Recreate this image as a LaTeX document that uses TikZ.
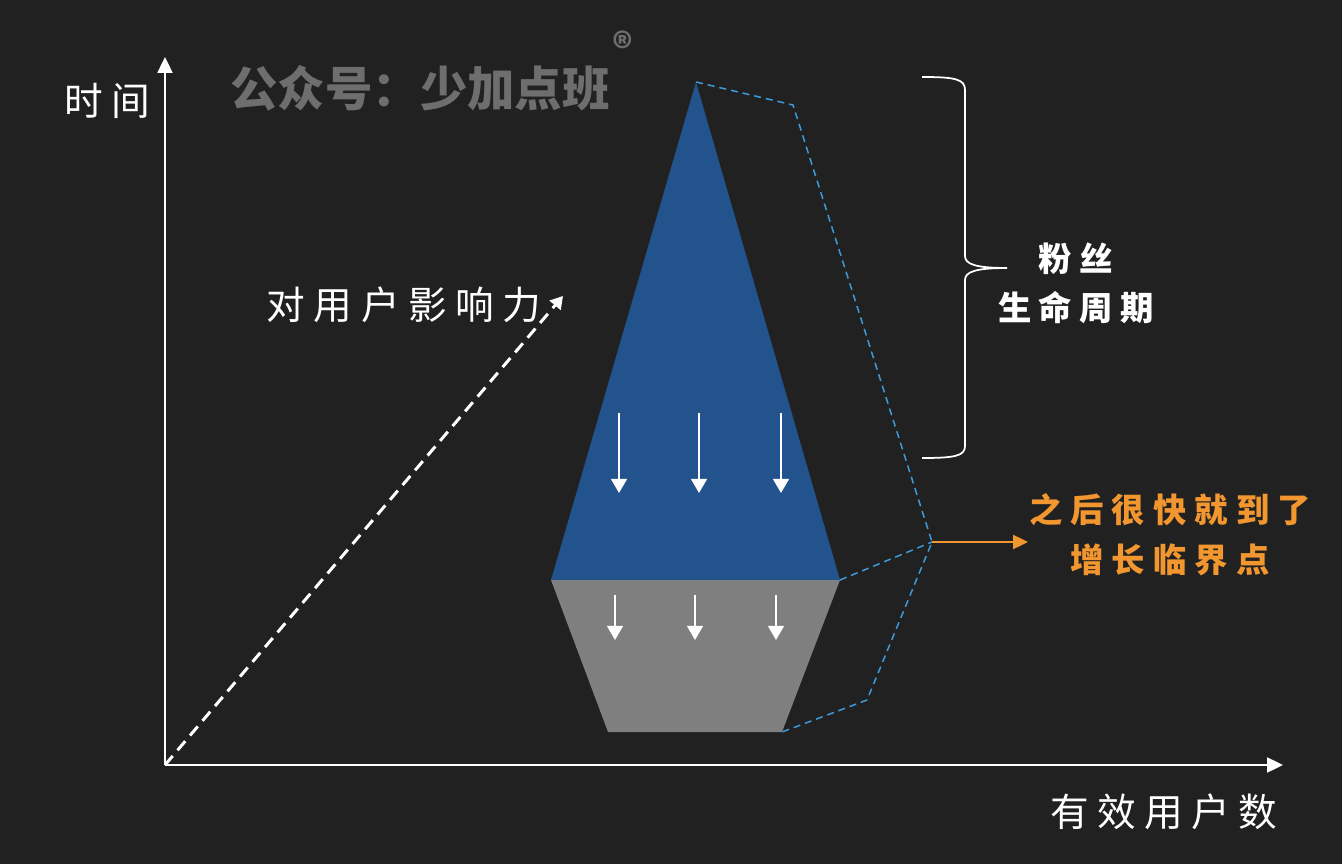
\documentclass[tikz,border=0pt]{standalone}
\usepackage{fontspec}
\usetikzlibrary{arrows.meta}
\newfontfamily\cjk[LetterSpace=22]{Noto Sans CJK SC}
\newfontfamily\cjknote[LetterSpace=24]{Noto Sans CJK SC}
\newfontfamily\cjkmark{Noto Sans CJK SC}
\definecolor{bgdark}{HTML}{212121}
\definecolor{coneblue}{HTML}{22538D}
\definecolor{conegray}{HTML}{7F7F7F}
\definecolor{dashblue}{HTML}{3E9BDB}
\definecolor{tiporange}{HTML}{F2962F}
\definecolor{markgray}{HTML}{6E6E6E}

\begin{document}
\begin{tikzpicture}[x=0.02cm, y=-0.02cm,
		axis/.style={white, line width=1.1pt, -{Triangle[length=9pt,width=8.5pt]}},
		flow/.style={white, line width=1.1pt, -{Triangle[length=8pt,width=9pt]}},
		outline/.style={dashblue, line width=0.85pt, dash pattern=on 4pt off 2.8pt},
		label/.style={white, font=\cjk\fontsize{22}{26}\selectfont}]
	\useasboundingbox[fill=bgdark] (0,0) rectangle (1342,864);
	% axes
	\coordinate (o) at (165,765);
	\coordinate (ytop) at (165,57);
	\coordinate (xend) at (1283,765);
	\draw[axis] (o) -- (ytop);
	\draw[axis] (o) -- (xend);
	\node[label] (tlabel) at (107,101) {时间};
	\node[label] (ulabel) at (1164,812) {有效用户数};
	% watermark
	\node[markgray, inner sep=1pt, font=\cjkmark\bfseries\fontsize{27}{30}\selectfont] (mark) at (420,88) {公众号：少加点班};
	\node[markgray, inner sep=0pt, anchor=south west, font=\cjkmark\bfseries\fontsize{22}{24}\selectfont] (reg) at (mark.north east) {®};
	% influence arrow
	\coordinate (inftip) at (563,296);
	\draw[white, line width=1.7pt, dash pattern=on 6.8pt off 4.2pt, -{Triangle[length=7pt,width=8pt]}] (o) -- (inftip);
	\node[label] (inflabel) at (404,305) {对用户影响力};
	% cone
	\coordinate (apex) at (696,82);
	\coordinate (bl) at (551,580);
	\coordinate (br) at (840,580);
	\coordinate (gl) at (608,732);
	\coordinate (gr) at (782,732);
	\fill[coneblue] (apex) -- (br) -- (bl) -- cycle;
	\fill[conegray] (bl) -- (br) -- (gr) -- (gl) -- cycle;
	\foreach \x in {619,699,781}{
		\draw[flow] (\x,413) -- (\x,493);
	}
	\foreach \x in {615,695,776}{
		\draw[flow] (\x,595) -- (\x,640);
	}
	% dashed outline
	\coordinate (d1) at (793,105);
	\coordinate (tip) at (932,542);
	\coordinate (d2) at (867,700);
	\draw[outline] (apex) -- (d1) -- (tip) -- (d2) -- (gr);
	\draw[outline] (br) -- (tip);
	\coordinate (tipend) at (1028,542);
	\draw[tiporange, line width=1.1pt, -{Triangle[length=8.5pt,width=8pt]}] (tip) -- (tipend);
	\node[tiporange, align=center, font=\cjknote\bfseries\fontsize{19}{28.5}\selectfont] (critical) at (1170,535) {之后很快就到了\\增长临界点};
	% brace
	\draw[white, line width=1pt] (922,77) .. controls (955,77) and (965,79) .. (965,90) -- (965,256)
		.. controls (965,264) and (975,268) .. (1007,268)
		.. controls (975,268) and (965,272) .. (965,280) -- (965,446)
		.. controls (965,456) and (955,458) .. (922,458);
	\node[white, align=center, font=\cjk\bfseries\fontsize{19}{28}\selectfont] (fans) at (1076,283) {粉丝\\生命周期};
\end{tikzpicture}
\end{document}
